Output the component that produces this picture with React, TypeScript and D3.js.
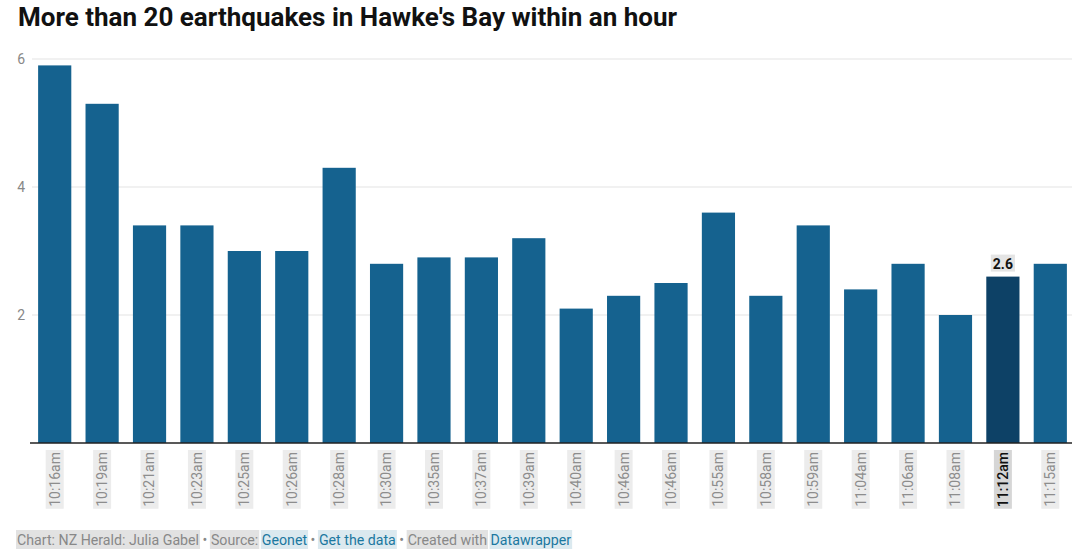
import React from 'react';
import * as d3 from 'd3';

const times = [
  '10:16am', '10:19am', '10:21am', '10:23am', '10:25am', '10:26am', '10:28am', '10:30am',
  '10:35am', '10:37am', '10:39am', '10:40am', '10:46am', '10:46am', '10:55am', '10:58am',
  '10:59am', '11:04am', '11:06am', '11:08am', '11:12am', '11:15am',
];
const magnitudes = [
  5.9, 5.3, 3.4, 3.4, 3.0, 3.0, 4.3, 2.8, 2.9, 2.9, 3.2, 2.1, 2.3, 2.5, 3.6, 2.3, 3.4, 2.4,
  2.8, 2.0, 2.6, 2.8,
];
const yTicks = [2, 4, 6];
const highlight = '11:12am';
const title = "More than 20 earthquakes in Hawke's Bay within an hour";
const footerParts = [
  { text: 'Chart: NZ Herald: Julia Gabel', link: false },
  { text: 'Source:', link: false, join: true },
  { text: 'Geonet', link: true },
  { text: 'Get the data', link: true },
  { text: 'Created with', link: false, join: true },
  { text: 'Datawrapper', link: true },
];

const W = 1080;
const H = 560;
const FONT = 'Roboto, "Noto Sans", sans-serif';

let ctx: CanvasRenderingContext2D | null = null;
function measure(text: string, font: string) {
  if (!ctx) ctx = document.createElement('canvas').getContext('2d');
  ctx!.font = font;
  return ctx!.measureText(text).width;
}

export default function App() {
  const data = times.map((t, i) => ({ idx: i, time: t, value: magnitudes[i] }));

  const x = d3.scaleBand<number>()
    .domain(data.map(d => d.idx))
    .range([31, 1074])
    .paddingInner(0.3)
    .paddingOuter(0.15);

  const y = d3.scaleLinear().domain([0, 6]).range([443, 59]);

  // footer layout
  const fSize = 14.2;
  const fFont = `${fSize}px ${FONT}`;
  const footerItems: { x: number; w: number; text: string; link: boolean; bullet?: number }[] = [];
  let fx = 17;
  const sep = measure(' • ', fFont);
  const space = measure(' ', fFont);
  footerParts.forEach((p, i) => {
    const w = measure(p.text, fFont);
    footerItems.push({ x: fx, w, text: p.text, link: p.link });
    if (i < footerParts.length - 1) {
      if (p.join) {
        fx += w + space;
      } else {
        footerItems[footerItems.length - 1].bullet = fx + w + sep / 2;
        fx += w + sep;
      }
    }
  });

  const lSize = 14;
  const labelFont = `${lSize}px ${FONT}`;

  return (
    <svg width={W} height={H} style={{ position: 'absolute', left: 0, top: 0, background: '#fff' }}
      fontFamily={FONT}>
      <text x={18} y={26} fontSize={26} fontWeight={700} fill="#111"
        textLength={659} lengthAdjust="spacingAndGlyphs">{title}</text>

      {yTicks.map(t => (
        <g key={t}>
          <line x1={32} x2={1072} y1={y(t)} y2={y(t)} stroke="#e3e3e3" strokeWidth={1} />
          <text x={25} y={y(t)} dy="0.35em" textAnchor="end" fontSize={14} fill="#888">{t}</text>
        </g>
      ))}

      {data.map(d => (
        <rect key={d.idx} x={x(d.idx)} y={y(d.value)} width={x.bandwidth()}
          height={y(0) - y(d.value)}
          fill={d.time === highlight ? '#0d4166' : '#15628f'} />
      ))}

      <line x1={30} x2={1072} y1={y(0)} y2={y(0)} stroke="#222" strokeWidth={1.5} />

      {data.filter(d => d.time === highlight).map(d => {
        const cx = x(d.idx)! + x.bandwidth() / 2;
        const label = d.value.toFixed(1);
        const w = measure(label, `bold 14px ${FONT}`);
        return (
          <g key="hl">
            <rect x={cx - w / 2 - 2} y={y(d.value) - 22} width={w + 4} height={17} fill="#e4e4e4" />
            <text x={cx} y={y(d.value) - 8} textAnchor="middle" fontSize={14} fontWeight={700}
              fill="#111">{label}</text>
          </g>
        );
      })}

      {data.map(d => {
        const cx = x(d.idx)! + x.bandwidth() / 2;
        const w = measure(d.time, labelFont);
        const hl = d.time === highlight && d.idx === 20;
        const top = y(0) + 9;
        return (
          <g key={d.idx} transform={`translate(${cx},${top}) rotate(-90)`}>
            <rect x={-w - 2} y={-9} width={w + 4} height={18} fill={hl ? '#d6d6d6' : '#ececec'} />
            <text x={0} y={0} dy="0.35em" textAnchor="end" fontSize={lSize}
              fontWeight={hl ? 500 : 400}
              fill={hl ? '#111' : '#8d8d8d'}>{d.time}</text>
          </g>
        );
      })}

      {footerItems.map((f, i) => (
        <g key={i}>
          <rect x={f.x - 1} y={530} width={f.w + 2} height={19} fill={f.link ? '#dbe9ef' : '#e2e2e2'} />
          <text x={f.x} y={545} fontSize={fSize} fill={f.link ? '#1b78a0' : '#888'}>{f.text}</text>
          {f.bullet !== undefined && (
            <text x={f.bullet} y={545} fontSize={fSize} textAnchor="middle" fill="#888">•</text>
          )}
        </g>
      ))}
    </svg>
  );
}
